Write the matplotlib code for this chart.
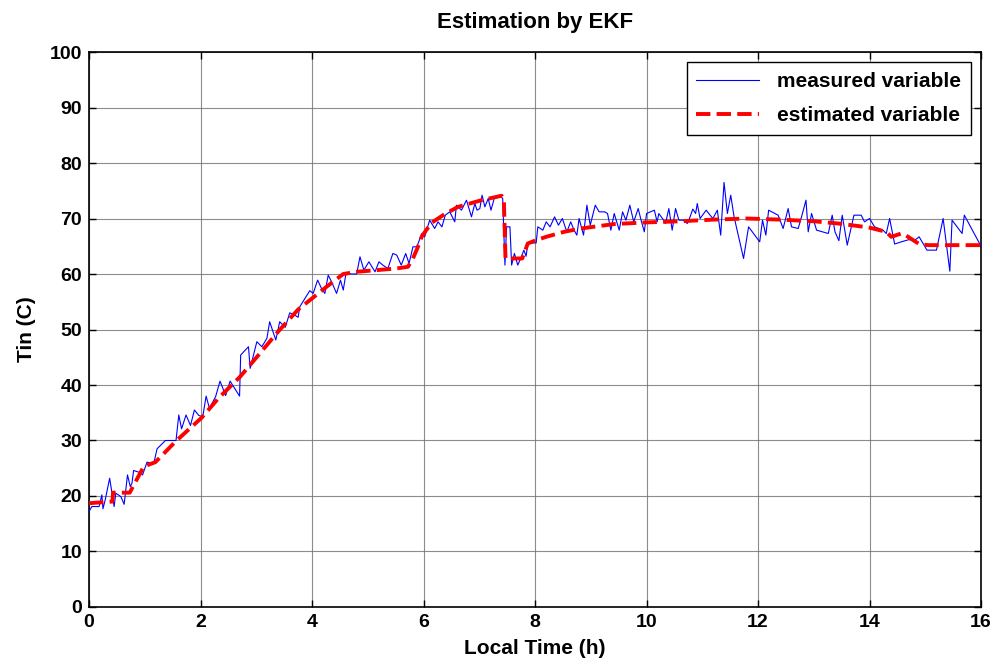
import matplotlib
matplotlib.use("Agg")
import matplotlib.pyplot as plt

plt.rcParams['font.family'] = ['Liberation Sans', 'DejaVu Sans']
plt.rcParams['font.weight'] = 'bold'

title = "Estimation by EKF"
xlabel = "Local Time (h)"
ylabel = "Tin (C)"
legend_labels = ["measured variable", "estimated variable"]
xticks = [0, 2, 4, 6, 8, 10, 12, 14, 16]
yticks = [0, 10, 20, 30, 40, 50, 60, 70, 80, 90, 100]

meas_t = [0.0, 0.05, 0.18, 0.23, 0.25, 0.29, 0.37, 0.45, 0.48, 0.57, 0.63, 0.69, 0.74, 0.77, 0.80, 0.92, 0.96,
          1.04, 1.16, 1.22, 1.37, 1.56, 1.61, 1.66, 1.74, 1.82, 1.89, 1.97,
          2.04, 2.10, 2.16, 2.27, 2.35, 2.45, 2.53, 2.70, 2.72, 2.86, 2.89, 3.01, 3.10, 3.19, 3.24, 3.35, 3.42,
          3.52, 3.60, 3.69, 3.75, 3.78, 3.96,
          4.02, 4.10, 4.17, 4.23, 4.29, 4.35, 4.44, 4.51, 4.56, 4.61, 4.71, 4.80, 4.86, 4.93, 5.02, 5.13, 5.20,
          5.27, 5.36, 5.45, 5.52, 5.60, 5.68, 5.74, 5.81, 5.88, 5.97, 6.02,
          6.11, 6.20, 6.26, 6.33, 6.39, 6.47, 6.56, 6.59, 6.68, 6.77, 6.86, 6.92, 6.96, 7.01, 7.05, 7.10, 7.16,
          7.21, 7.27, 7.36, 7.42, 7.46, 7.49, 7.55, 7.58, 7.63, 7.69, 7.75, 7.80, 7.84, 7.87, 7.93, 8.02,
          8.05, 8.14, 8.20, 8.27, 8.35, 8.42, 8.49, 8.57, 8.64, 8.70, 8.75, 8.79, 8.87, 8.93, 8.99, 9.08, 9.15,
          9.25, 9.30, 9.36, 9.42, 9.51, 9.57, 9.63, 9.70, 9.77, 9.85, 9.91, 9.96, 10.00, 10.14, 10.19, 10.22,
          10.30, 10.34, 10.40, 10.46, 10.52, 10.58, 10.66, 10.73, 10.77, 10.83, 10.88, 10.91, 10.96, 11.07,
          11.14, 11.19, 11.27, 11.33, 11.39, 11.45, 11.51, 11.57, 11.74, 11.83,
          12.03, 12.08, 12.14, 12.19, 12.36, 12.45, 12.54, 12.60, 12.72, 12.78, 12.86, 12.90, 12.96, 13.05,
          13.26, 13.33, 13.38, 13.45, 13.51, 13.60, 13.72, 13.85, 13.91, 14.00, 14.09, 14.24, 14.30, 14.36,
          14.45, 14.57, 14.71, 14.80, 14.89, 15.03, 15.20, 15.32, 15.44, 15.48, 15.66, 15.70, 16.00]
meas_y = [17.2, 18.1, 18.1, 20.2, 17.7, 19.3, 23.2, 18.1, 20.5, 19.9, 18.5, 23.8, 21.7, 22.3, 24.6, 24.2, 23.8,
          26.1, 25.8, 28.5, 30.0, 30.0, 34.6, 32.1, 34.6, 32.7, 35.5, 34.5,
          34.3, 38.0, 35.8, 37.9, 40.7, 38.1, 40.7, 38.0, 45.4, 46.9, 43.0, 47.8, 46.9, 48.4, 51.4, 48.1, 51.4,
          50.4, 53.0, 52.6, 52.2, 54.1, 57.0,
          56.5, 58.9, 57.4, 56.5, 59.8, 58.6, 56.5, 58.9, 57.1, 60.2, 60.0, 60.0, 63.1, 60.7, 62.2, 60.4, 62.2,
          61.6, 61.0, 63.7, 63.4, 61.6, 63.7, 61.9, 64.9, 64.9, 67.3, 66.7,
          69.7, 68.2, 69.4, 68.5, 70.6, 71.2, 69.4, 72.4, 71.5, 73.3, 70.3, 72.7, 71.5, 71.8, 74.2, 72.1, 73.6,
          71.5, 73.7, 74.2, 73.6, 61.6, 68.5, 68.5, 61.6, 63.7, 61.6, 63.0, 64.3, 63.2, 65.5, 65.6, 65.6,
          68.5, 67.9, 69.4, 68.5, 70.3, 68.8, 70.0, 67.6, 69.4, 67.9, 67.0, 70.0, 67.0, 72.4, 68.8, 72.4, 71.2,
          71.2, 70.9, 67.9, 70.9, 67.9, 71.2, 69.7, 72.4, 69.4, 71.8, 69.4, 67.6, 70.9, 71.5, 69.4, 70.9,
          69.8, 69.1, 71.8, 67.9, 71.8, 69.7, 69.7, 69.1, 70.0, 71.7, 70.9, 72.7, 70.0, 71.5,
          70.6, 70.0, 71.5, 67.0, 76.5, 70.9, 74.2, 70.3, 62.8, 68.5,
          65.8, 69.7, 67.0, 71.5, 70.6, 68.2, 71.8, 68.5, 68.2, 70.3, 73.3, 67.6, 70.9, 67.9,
          67.3, 70.6, 67.6, 66.0, 70.6, 65.2, 70.6, 70.6, 69.4, 70.0, 68.5, 67.9, 67.3, 70.0,
          65.4, 65.8, 66.2, 66.0, 66.7, 64.3, 64.3, 70.0, 60.5, 69.7, 67.3, 70.6, 65.0]

est_t = [0.0, 0.42, 0.43, 0.73, 0.98, 1.19, 1.56, 2.02, 2.32, 2.71, 3.04, 3.39, 3.75, 4.05, 4.26, 4.56, 4.80,
         5.16, 5.52, 5.72, 5.81, 5.90, 5.97, 6.14, 6.38, 6.62, 7.04, 7.40, 7.44, 7.47, 7.77, 7.87, 8.02, 8.20,
         8.52, 8.82, 9.42, 10.0, 10.6, 11.2, 11.8, 12.4, 13.0, 13.44, 13.98, 14.30, 14.39, 14.57, 14.63, 14.89,
         15.05, 16.0]
est_y = [18.7, 19.0, 20.6, 20.6, 25.3, 26.1, 29.9, 34.1, 37.6, 41.5, 45.4, 49.6, 53.6, 56.0, 57.7, 60.0, 60.4,
         60.7, 61.0, 61.3, 62.8, 64.9, 66.8, 69.2, 70.8, 72.1, 73.3, 74.1, 73.6, 62.8, 62.8, 65.5, 66.1, 66.7,
         67.6, 68.2, 69.0, 69.3, 69.5, 69.8, 70.0, 69.8, 69.5, 69.1, 68.4, 67.6, 66.7, 67.3, 67.1, 65.4,
         65.2, 65.2]

fig = plt.figure(figsize=(9.97, 6.66), dpi=100)
ax = fig.add_axes([0.0893, 0.0886, 0.8947, 0.8333])

ax.plot(meas_t, meas_y, color='#0000ff', lw=0.8, label=legend_labels[0], zorder=3)
ax.plot(est_t, est_y, color='#ff0000', lw=2.8, ls='--', label=legend_labels[1], zorder=4)

ax.set_xlim(0, 16)
ax.set_ylim(0, 100)
ax.set_xticks(xticks)
ax.set_yticks(yticks)
ax.tick_params(direction='in', length=5, width=1, top=True, right=True, labelsize=14, pad=5)
for lab in ax.get_xticklabels() + ax.get_yticklabels():
    lab.set_fontweight('bold')
ax.grid(True, color='#707070', lw=0.8, ls='-', alpha=0.8)
for sp in ax.spines.values():
    sp.set_linewidth(1.2)
    sp.set_color('black')

ax.set_title(title, fontsize=16, fontweight='bold', pad=17)
ax.set_xlabel(xlabel, fontsize=15, fontweight='bold', labelpad=6)
ax.set_ylabel(ylabel, fontsize=15, fontweight='bold', labelpad=10)

leg = ax.legend(loc='upper right', fontsize=15, frameon=True, fancybox=False, framealpha=1,
                edgecolor='black', handlelength=3.0, handletextpad=0.9, borderaxespad=0.5,
                borderpad=0.45, labelspacing=0.75)
leg.get_frame().set_linewidth(1.0)
for t in leg.get_texts():
    t.set_fontweight('bold')

fig.savefig("out.png", dpi=100)
